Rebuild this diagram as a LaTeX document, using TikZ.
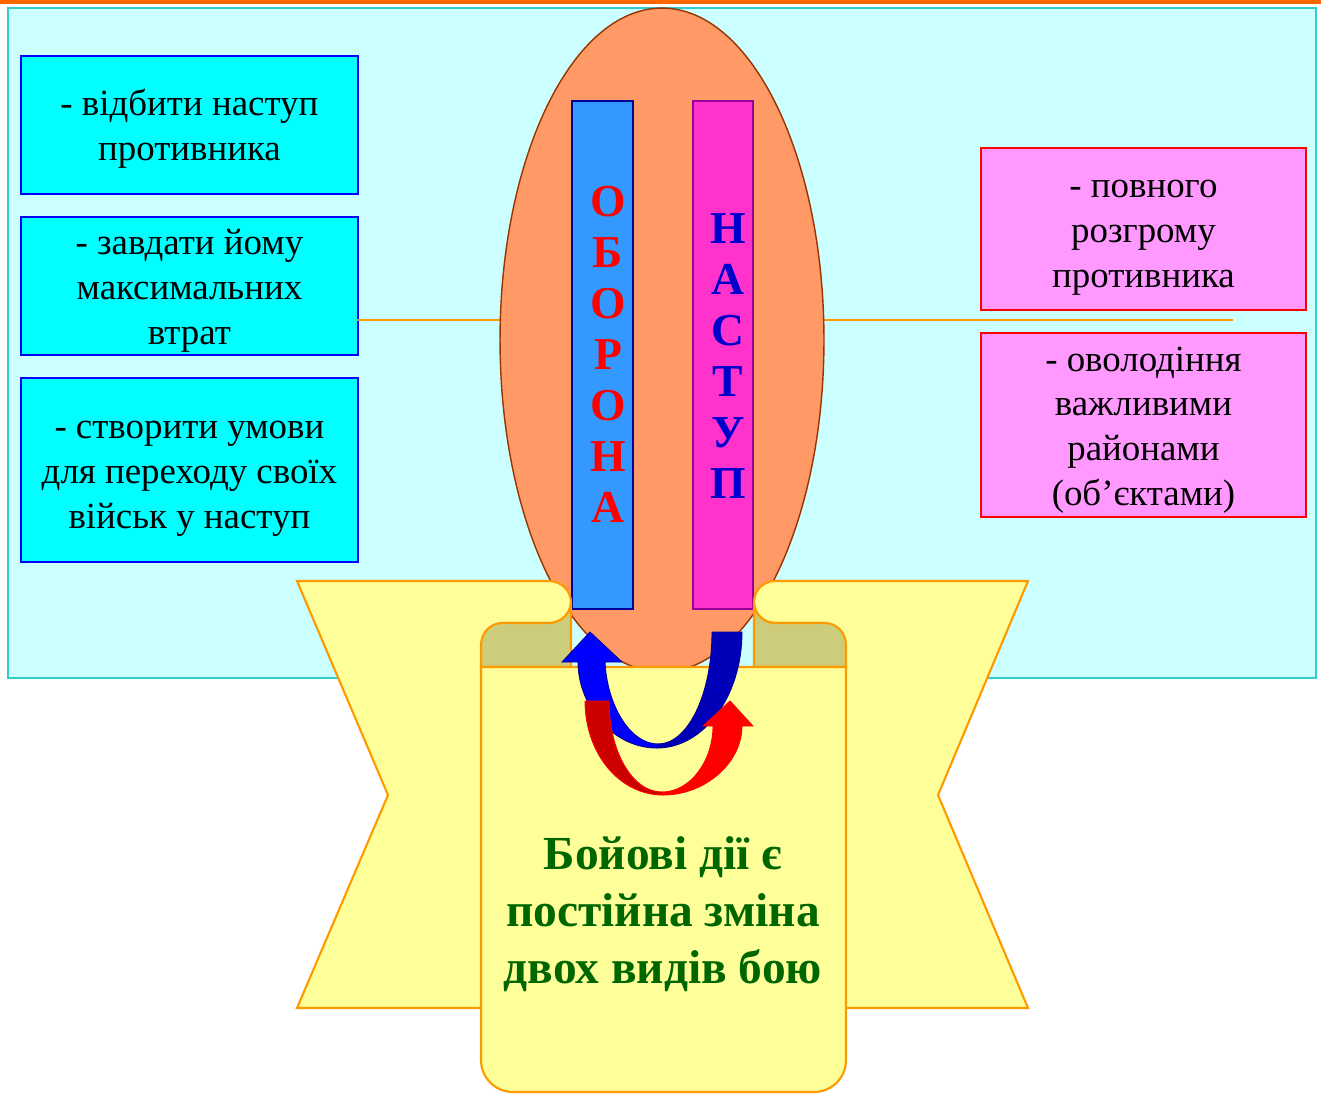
\documentclass[tikz,border=0pt]{standalone}
\usepackage{fontspec}
\setmainfont{Liberation Serif}
\usetikzlibrary{positioning,shapes.geometric}
\definecolor{topOrange}{HTML}{FF6600}
\definecolor{bgCyan}{HTML}{CCFFFF}
\definecolor{bgEdge}{HTML}{33CCCC}
\definecolor{goalCyan}{HTML}{00FFFF}
\definecolor{aimPink}{HTML}{FF99FF}
\definecolor{ovalFill}{HTML}{FF9966}
\definecolor{ovalEdge}{HTML}{993300}
\definecolor{defFill}{HTML}{3399FF}
\definecolor{defEdge}{HTML}{000099}
\definecolor{offFill}{HTML}{FF33CC}
\definecolor{offEdge}{HTML}{990099}
\definecolor{offText}{HTML}{0000CC}
\definecolor{scrollFill}{HTML}{FFFF99}
\definecolor{scrollEdge}{HTML}{FF9900}
\definecolor{foldFill}{HTML}{CCCC7A}
\definecolor{mottoGreen}{HTML}{006600}
\definecolor{blueDark}{HTML}{0000B8}
\definecolor{redDark}{HTML}{CC0000}
\newcommand{\boxtop}{\rule{0pt}{20.4pt}}
\newcommand{\boxbot}{\rule[-5.1pt]{0pt}{5.1pt}}
\tikzset{
  textbox/.style={line width=1.1pt,align=center,inner xsep=2pt,inner ysep=0pt,
    font=\fontsize{21}{25.5}\selectfont},
  goal/.style={textbox,draw=blue,fill=goalCyan,minimum width=6.74cm},
  aim/.style={textbox,draw=red,fill=aimPink,minimum width=6.5cm},
  strip/.style={rectangle,line width=1pt,minimum height=10.16cm},
  letter/.style={anchor=base,inner sep=0pt,font=\fontsize{26}{30}\selectfont\bfseries},
  scrollpart/.style={fill=scrollFill,draw=scrollEdge,line width=1.2pt},
  fold/.style={fill=foldFill,draw=scrollEdge,line width=1.2pt},
  link/.style={draw=scrollEdge,line width=1.2pt},
  motto/.style={align=center,text=mottoGreen,font=\fontsize{27}{32.5}\selectfont\bfseries},
}

\begin{document}
\begin{tikzpicture}[x=0.02cm,y=-0.02cm,node distance=0.42cm]
\useasboundingbox (0,0) rectangle (1321,1093);
\fill[topOrange] (0,0) rectangle (1321,4);
\path[fill=bgCyan,draw=bgEdge,line width=1.2pt] (8,8) rectangle (1316,678);

% goals of defence
\node[goal,minimum height=2.76cm,anchor=north west] (g1) at (20,55)
  {\boxtop- відбити наступ\\противника\boxbot};
\node[goal,minimum height=2.76cm,below=of g1] (g2)
  {\boxtop- завдати йому\\максимальних\\втрат\boxbot};
\node[goal,minimum height=3.68cm,below=of g2] (g3)
  {\boxtop- створити умови\\для переходу своїх\\військ у наступ\boxbot};

% goals of offence
\node[aim,minimum height=3.24cm,anchor=north west] (a1) at (980,147)
  {\boxtop- повного\\розгрому\\противника\boxbot};
\node[aim,minimum height=3.68cm,below=of a1] (a2)
  {\boxtop- оволодіння\\важливими\\районами\\(об’єктами)\boxbot};

\coordinate (linkL) at (357,320);
\coordinate (linkR) at (1233,320);
\draw[link] (linkL) -- (linkR);

\node[ellipse,draw=ovalEdge,fill=ovalFill,line width=0.8pt,
  minimum width=6.48cm,minimum height=13.28cm] (battle) at (662,340) {};

\node[strip,draw=defEdge,fill=defFill,minimum width=1.22cm] (def) at (602.5,355) {};
\node[strip,draw=offEdge,fill=offFill,minimum width=1.2cm] (off) at (723,355) {};
\foreach \ch [count=\i from 0] in {О,Б,О,Р,О,Н,А}
  \node[letter,text=red] (def\i) at (608,{216+51*\i}) {\ch};
\foreach \ch [count=\i from 0] in {Н,А,С,Т,У,П}
  \node[letter,text=offText] (off\i) at (728,{243+51*\i}) {\ch};

% scroll
\path[scrollpart] (297,581) -- (549,581) .. controls (560.6,581) and (571,590.4) .. (571,602)
  .. controls (571,613.6) and (560.6,623) .. (549,623) -- (502,623) -- (502,1008)
  -- (297,1008) -- (388,795) -- cycle;
\path[scrollpart] (1028,581) -- (775,581) .. controls (763.4,581) and (754,590.4) .. (754,602)
  .. controls (754,613.6) and (763.4,623) .. (775,623) -- (825,623) -- (825,1008)
  -- (1028,1008) -- (938,795) -- cycle;
\path[fold] (571,602) -- (571,667) -- (481,667) -- (481,645)
  .. controls (481,632.9) and (490.4,623) .. (502,623) -- (549,623)
  .. controls (560.6,623) and (571,613.6) .. (571,602) -- cycle;
\path[fold] (754,602) -- (754,667) -- (846,667) -- (846,645)
  .. controls (846,632.9) and (836.6,623) .. (825,623) -- (775,623)
  .. controls (763.4,623) and (754,613.6) .. (754,602) -- cycle;
\path[scrollpart] (481,667) -- (846,667) -- (846,1060)
  .. controls (846,1077.7) and (831.7,1092) .. (814,1092) -- (513,1092)
  .. controls (495.3,1092) and (481,1077.7) .. (481,1060) -- cycle;

% curved arrows
\path[fill=blue,draw=defEdge,line width=0.5pt] (657,748) .. controls (612,748) and (578,705) .. (578,662)
  -- (562,662) -- (590,632) -- (622,662) -- (605,662)
  .. controls (607,705) and (630,744) .. (658,744) -- cycle;
\path[fill=blueDark,draw=defEdge,line width=0.5pt] (657,748) .. controls (704,748) and (742,696) .. (742,632)
  -- (712,632) .. controls (712,694) and (688,744) .. (658,744) -- cycle;
\path[fill=redDark,draw=red,line width=0.5pt] (663,795) .. controls (619,795) and (585,753) .. (585,701)
  -- (609,701) .. controls (609,751) and (632,792) .. (662,792) -- cycle;
\path[fill=red,draw=red,line width=0.5pt] (663,795) .. controls (706,795) and (742,762) .. (742,726)
  -- (753,726) -- (730,701) -- (703,726) -- (713,726)
  .. controls (713,760) and (691,792) .. (662,792) -- cycle;

\node[motto] (motto) at (663,914) {Бойові дії є\\постійна зміна\\двох видів бою};
\end{tikzpicture}
\end{document}
